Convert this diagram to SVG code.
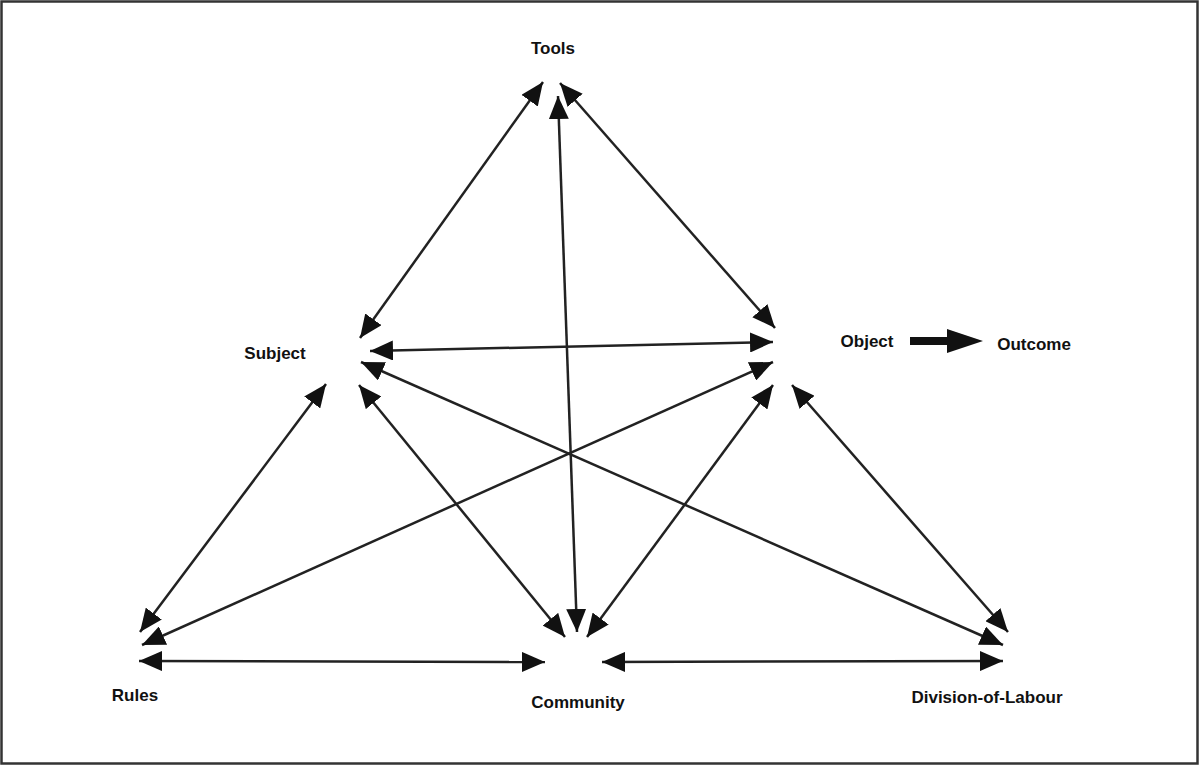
<svg xmlns="http://www.w3.org/2000/svg" width="1200" height="766" viewBox="0 0 1200 766">
<style>
.lbl{font-family:"Liberation Sans",Arial,sans-serif;font-weight:bold;font-size:17px;fill:#111;text-anchor:middle}
.c{stroke:#222;stroke-width:2.5;fill:none;marker-start:url(#ah);marker-end:url(#ah)}
</style>
<defs>
<marker id="ah" markerUnits="userSpaceOnUse" markerWidth="24" markerHeight="20" viewBox="0 0 24 20" refX="23" refY="10" orient="auto-start-reverse">
<path d="M0,0 L23,10 L0,20 z" fill="#111"/>
</marker>
</defs>
<rect x="1.5" y="1.5" width="1196" height="762" fill="#fff" stroke="#333" stroke-width="2.5"/>
<g id="connectors">
<line class="c" x1="360" y1="338" x2="543" y2="82"/>
<line class="c" x1="560" y1="83" x2="775" y2="328"/>
<line class="c" x1="558" y1="96" x2="577" y2="632"/>
<line class="c" x1="370" y1="351" x2="773" y2="342"/>
<line class="c" x1="361" y1="362" x2="1003" y2="645"/>
<line class="c" x1="326" y1="384" x2="140" y2="632"/>
<line class="c" x1="359" y1="385" x2="565" y2="637"/>
<line class="c" x1="773" y1="362" x2="142" y2="645"/>
<line class="c" x1="773" y1="385" x2="587" y2="637"/>
<line class="c" x1="792" y1="385" x2="1008" y2="632"/>
<line class="c" x1="139" y1="661" x2="545" y2="662"/>
<line class="c" x1="602" y1="662" x2="1003" y2="661"/>
<polygon id="outcome-arrow" points="910,337 947,337 947,329 983,341 947,353 947,345 910,345" fill="#111"/>
</g>
<g id="tools"><text class="lbl" x="553" y="54">Tools</text></g>
<g id="subject"><text class="lbl" x="275" y="359">Subject</text></g>
<g id="object"><text class="lbl" x="867" y="347">Object</text></g>
<g id="outcome"><text class="lbl" x="1034" y="350">Outcome</text></g>
<g id="rules"><text class="lbl" x="135" y="701">Rules</text></g>
<g id="community"><text class="lbl" x="578" y="708">Community</text></g>
<g id="division-of-labour"><text class="lbl" x="987" y="703">Division-of-Labour</text></g>
</svg>
